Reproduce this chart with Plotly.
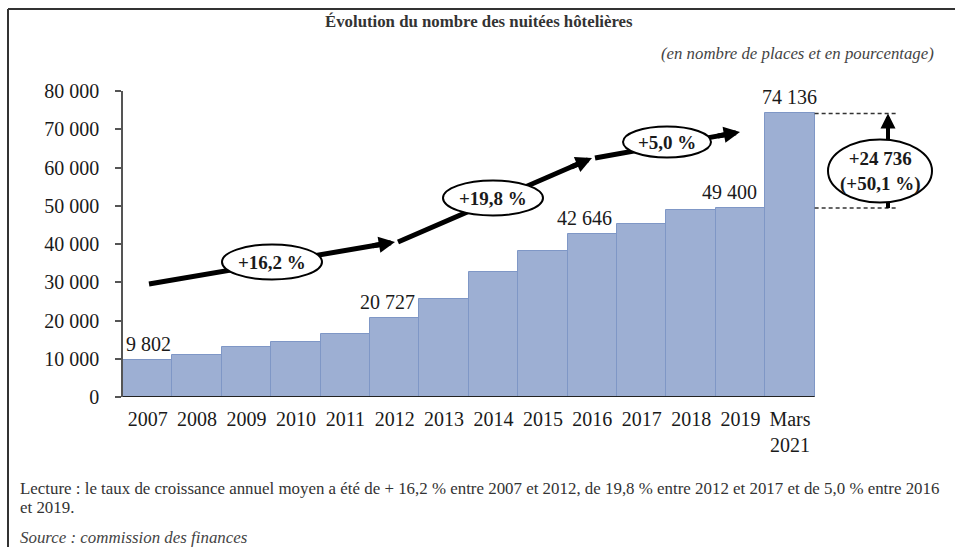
import plotly.graph_objects as go

# ---------------- data ----------------
categories = ["2007", "2008", "2009", "2010", "2011", "2012", "2013",
              "2014", "2015", "2016", "2017", "2018", "2019", "Mars<br>2021"]
nuitees = [9802, 10950, 13100, 14300, 16450, 20727, 25700,
           32650, 38150, 42646, 45150, 48900, 49400, 74136]
labelled_categories = ["2007", "2012", "2016", "2019", "Mars<br>2021"]
growth_rates = ["+16,2 %", "+19,8 %", "+5,0 %"]
y_tick_values = [0, 10000, 20000, 30000, 40000, 50000, 60000, 70000, 80000]
y_tick_labels = ["0", "10 000", "20 000", "30 000", "40 000",
                 "50 000", "60 000", "70 000", "80 000"]

title_text = "Évolution du nombre des nuitées hôtelières"
subtitle_text = "(en nombre de places et en pourcentage)"
note_line1 = ("Lecture : le taux de croissance annuel moyen a été de + 16,2 % entre 2007 et 2012, "
              "de 19,8 % entre 2012 et 2017 et de 5,0 % entre 2016")
note_line2 = "et 2019."
source_text = "Source : commission des finances"

# ---------------- layout geometry ----------------
W, H = 955, 547
L, R, T, B = 123, 5, 91, 150
PW, PH = W - L - R, H - T - B
X_RANGE = [-0.5, 16.24]
Y_RANGE = [0, 80000]
FONT = "Liberation Serif"
TXT = "#1a1a1a"


def fmt(v):
    return f"{v:,}".replace(",", " ")


def px_x(px):
    return X_RANGE[0] + (px - L) / PW * (X_RANGE[1] - X_RANGE[0])


def px_y(py):
    return Y_RANGE[0] + (H - B - py) / PH * (Y_RANGE[1] - Y_RANGE[0])


def paper_x(px):
    return (px - L) / PW


def paper_y(py):
    return (H - B - py) / PH


idx = list(range(len(categories)))

fig = go.Figure()
fig.add_trace(go.Bar(
    x=idx, y=nuitees, width=1,
    marker=dict(color="#9DAFD3", line=dict(color="#7F97C6", width=1)),
    hoverinfo="skip", showlegend=False,
))

shapes = []
annotations = []

# x axis line (only under the bars)
shapes.append(dict(type="line", xref="x", yref="y", x0=-0.5, x1=len(categories) - 0.5,
                   y0=0, y1=0, line=dict(color="#222", width=2), layer="above"))

# frame (top + left border)
shapes.append(dict(type="line", xref="paper", yref="paper",
                   x0=paper_x(8), x1=paper_x(W + 5), y0=paper_y(9), y1=paper_y(9),
                   line=dict(color="#333", width=2)))
shapes.append(dict(type="line", xref="paper", yref="paper",
                   x0=paper_x(8), x1=paper_x(8), y0=paper_y(9), y1=paper_y(H + 5),
                   line=dict(color="#333", width=2)))

# growth arrows: (start px, tip px, ellipse centre px, ellipse size px)
segments = [
    ((149, 284), (395, 242), (272, 262), (100, 35)),
    ((398, 242), (592, 158), (493, 198), (100, 35)),
    ((595, 158), (740, 132), (667, 142), (88, 31)),
]
HEAD_BACK = 24  # px back from the tip where the annotation arrow starts
for (s, t, c, sz), label in zip(segments, growth_rates):
    dx, dy = t[0] - s[0], t[1] - s[1]
    ln = (dx * dx + dy * dy) ** 0.5
    bx, by = t[0] - dx / ln * HEAD_BACK, t[1] - dy / ln * HEAD_BACK
    ex, ey = t[0] - dx / ln * 9, t[1] - dy / ln * 9
    shapes.append(dict(type="line", xref="x", yref="y",
                       x0=px_x(s[0]), y0=px_y(s[1]), x1=px_x(ex), y1=px_y(ey),
                       line=dict(color="black", width=5), layer="above"))
    annotations.append(dict(x=px_x(t[0]), y=px_y(t[1]), xref="x", yref="y",
                            ax=px_x(bx), ay=px_y(by), axref="x", ayref="y",
                            text="", showarrow=True, arrowhead=2, arrowsize=0.65,
                            arrowwidth=5, arrowcolor="black", standoff=0, startstandoff=0))
for (s, t, c, sz), label in zip(segments, growth_rates):
    shapes.append(dict(type="circle", xref="x", yref="y", xsizemode="pixel", ysizemode="pixel",
                       xanchor=px_x(c[0]), yanchor=px_y(c[1]),
                       x0=-sz[0] / 2, x1=sz[0] / 2, y0=-sz[1] / 2, y1=sz[1] / 2,
                       fillcolor="white", line=dict(color="black", width=2), layer="above"))
    annotations.append(dict(x=px_x(c[0]), y=px_y(c[1]), xref="x", yref="y",
                            text=f"<b>{label}</b>", showarrow=False,
                            font=dict(family=FONT, size=19, color=TXT)))

# value labels above selected bars
label_shift = {"2007": 1, "2012": -7, "2016": -8, "2019": -11, "Mars<br>2021": 0}
for cat in labelled_categories:
    i = categories.index(cat)
    annotations.append(dict(x=i, y=nuitees[i], xref="x", yref="y",
                            text=fmt(nuitees[i]), showarrow=False,
                            yanchor="bottom", yshift=3, xshift=label_shift[cat],
                            font=dict(family=FONT, size=20, color=TXT)))

# right-hand comparison: last period vs 2019
v_prev, v_last = nuitees[-2], nuitees[-1]
diff = v_last - v_prev
pct = diff / v_prev * 100
x_d0, x_d1 = len(categories) - 0.5, px_x(897)
for v in (v_last, v_prev):
    shapes.append(dict(type="line", xref="x", yref="y", x0=x_d0, x1=x_d1, y0=v, y1=v,
                       line=dict(color="#333", width=1.5, dash="4px,3px"), layer="above"))
xa = px_x(888)
ell_c = (880, 171)
ell_sz = (104, 63)
shapes.append(dict(type="line", xref="x", yref="y", x0=xa, x1=xa,
                   y0=px_y(ell_c[1] - ell_sz[1] / 2 + 2), y1=px_y(122),
                   line=dict(color="black", width=4), layer="above"))
shapes.append(dict(type="line", xref="x", yref="y", x0=xa, x1=xa,
                   y0=v_prev, y1=px_y(ell_c[1] + ell_sz[1] / 2 - 2),
                   line=dict(color="black", width=4), layer="above"))
shapes.append(dict(type="circle", xref="x", yref="y", xsizemode="pixel", ysizemode="pixel",
                   xanchor=px_x(ell_c[0]), yanchor=px_y(ell_c[1]),
                   x0=-ell_sz[0] / 2, x1=ell_sz[0] / 2, y0=-ell_sz[1] / 2, y1=ell_sz[1] / 2,
                   fillcolor="white", line=dict(color="black", width=2), layer="above"))
annotations.append(dict(x=px_x(ell_c[0]), y=px_y(ell_c[1]), xref="x", yref="y",
                        text=f"<b>+{fmt(diff)}<br>(+{pct:.1f} %)</b>".replace(".", ","),
                        showarrow=False, font=dict(family=FONT, size=19, color=TXT)))
annotations.append(dict(x=xa, y=v_last, xref="x", yref="y",
                        ax=xa, ay=px_y(134), axref="x", ayref="y",
                        text="", showarrow=True, arrowhead=2, arrowsize=0.75,
                        arrowwidth=4, arrowcolor="black", standoff=0, startstandoff=0))

# titles & notes
annotations.append(dict(x=paper_x(479), y=paper_y(22), xref="paper", yref="paper",
                        text=f"<b>{title_text}</b>", showarrow=False,
                        xanchor="center", yanchor="middle",
                        font=dict(family=FONT, size=16.8, color="#333")))
annotations.append(dict(x=paper_x(936), y=paper_y(54), xref="paper", yref="paper",
                        text=f"<i>{subtitle_text}</i>", showarrow=False,
                        xanchor="right", yanchor="middle",
                        font=dict(family=FONT, size=16.8, color="#444")))
annotations.append(dict(x=paper_x(18), y=paper_y(488), xref="paper", yref="paper",
                        text=note_line1, showarrow=False,
                        xanchor="left", yanchor="middle",
                        font=dict(family=FONT, size=16.9, color="#333")))
annotations.append(dict(x=paper_x(18), y=paper_y(507), xref="paper", yref="paper",
                        text=note_line2, showarrow=False,
                        xanchor="left", yanchor="middle",
                        font=dict(family=FONT, size=16.9, color="#333")))
annotations.append(dict(x=paper_x(18), y=paper_y(537), xref="paper", yref="paper",
                        text=f"<i>{source_text}</i>", showarrow=False,
                        xanchor="left", yanchor="middle",
                        font=dict(family=FONT, size=16.9, color="#444")))

fig.update_layout(
    width=W, height=H,
    margin=dict(l=L, r=R, t=T, b=B, pad=0),
    paper_bgcolor="white", plot_bgcolor="white",
    bargap=0, showlegend=False,
    shapes=shapes, annotations=annotations,
    xaxis=dict(range=X_RANGE, tickmode="array", tickvals=idx, ticktext=categories,
               showgrid=False, zeroline=False, showline=False, ticks="",
               ticklabelstandoff=8,
               tickfont=dict(family=FONT, size=20, color=TXT), fixedrange=True),
    yaxis=dict(range=Y_RANGE, tickmode="array", tickvals=y_tick_values, ticktext=y_tick_labels,
               showgrid=False, zeroline=False, showline=True, linecolor="#555", linewidth=1.5,
               ticks="outside", ticklen=6, tickcolor="#555", tickwidth=1.5,
               ticklabelstandoff=12,
               tickfont=dict(family=FONT, size=20, color=TXT), fixedrange=True),
)

fig.write_html("out.html", config={"displayModeBar": False},
               post_script="document.body.style.margin='0px';document.body.style.overflow='hidden';")
